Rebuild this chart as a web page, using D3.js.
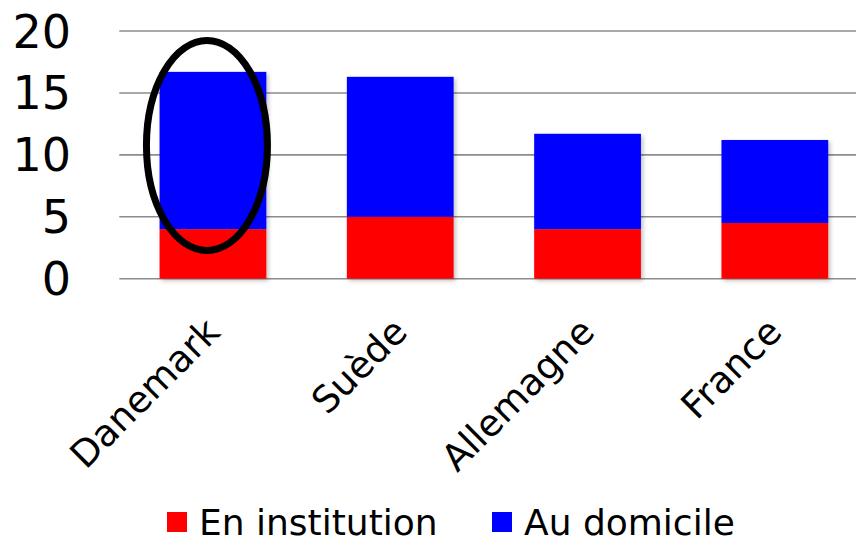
<!DOCTYPE html>
<html><head><meta charset="utf-8">
<script src="https://cdn.jsdelivr.net/npm/d3@7"></script>
<style>body{margin:0;background:#fff;} svg{display:block;font-family:"DejaVu Sans",Verdana,sans-serif;}</style>
</head><body>
<svg id="c" width="856" height="540"></svg>
<script>
const categories = ["Danemark", "Suède", "Allemagne", "France"];
const seriesNames = ["En institution", "Au domicile"];
const institution = [4.0, 5.0, 4.0, 4.5];
const domicile = [12.7, 11.3, 7.7, 6.7];
const yTicks = [0, 5, 10, 15, 20];
const colors = ["#ff0000", "#0000ff"];

const svg = d3.select("#c");
const defs = svg.append("defs");
const f = defs.append("filter").attr("id","sh").attr("x","-10%").attr("y","-10%").attr("width","130%").attr("height","130%");
f.append("feDropShadow").attr("dx",2).attr("dy",2).attr("stdDeviation",2).attr("flood-color","#000").attr("flood-opacity",0.25);

const x = d3.scaleBand().domain(categories).range([119.3, 868.5]).paddingInner(0.43).paddingOuter(0.215);
const y = d3.scaleLinear().domain([0, 20]).range([278.7, 31]);

// gridlines
svg.append("g").selectAll("line").data(yTicks).join("line")
  .attr("x1", 119.3).attr("x2", 856)
  .attr("y1", d => y(d)).attr("y2", d => y(d))
  .attr("stroke", "#8c8c8c").attr("stroke-width", 1.6);

// y tick labels
svg.append("g").selectAll("text").data(yTicks).join("text")
  .attr("x", 71).attr("y", d => y(d)).attr("dy", "0.36em")
  .attr("text-anchor", "end").attr("font-size", 46).attr("fill", "#000")
  .text(d => d);

const data = categories.map((c, i) => ({cat: c, institution: institution[i], domicile: domicile[i]}));
const stack = d3.stack().keys(["institution", "domicile"])(data);

const g = svg.append("g").attr("filter", "url(#sh)");
stack.forEach((layer, li) => {
  g.append("g").selectAll("rect").data(layer).join("rect")
    .attr("x", d => x(d.data.cat))
    .attr("width", x.bandwidth())
    .attr("y", d => y(d[1]))
    .attr("height", d => y(d[0]) - y(d[1]))
    .attr("fill", colors[li]);
});

// x labels
svg.append("g").selectAll("text").data(categories).join("text")
  .attr("transform", d => `translate(${x(d) + x.bandwidth()/2 + 9},334) rotate(-45)`)
  .attr("text-anchor", "end").attr("font-size", 37).attr("fill", "#000")
  .text(d => d);

// ellipse highlight
svg.append("ellipse")
  .attr("cx", x("Danemark") + x.bandwidth()/2 - 6).attr("cy", 145.5)
  .attr("rx", 60.5).attr("ry", 105)
  .attr("fill", "none").attr("stroke", "#000").attr("stroke-width", 7);

// legend
const legX = [167, 492];
const leg = svg.append("g").selectAll("g").data(seriesNames).join("g")
  .attr("transform", (d, i) => `translate(${legX[i]},0)`);
leg.append("rect").attr("x", 0).attr("y", 512).attr("width", 20).attr("height", 20)
  .attr("fill", (d, i) => colors[i]);
leg.append("text").attr("x", 32).attr("y", 535).attr("font-size", 36).attr("fill", "#000")
  .text(d => d);
</script>
</body></html>
